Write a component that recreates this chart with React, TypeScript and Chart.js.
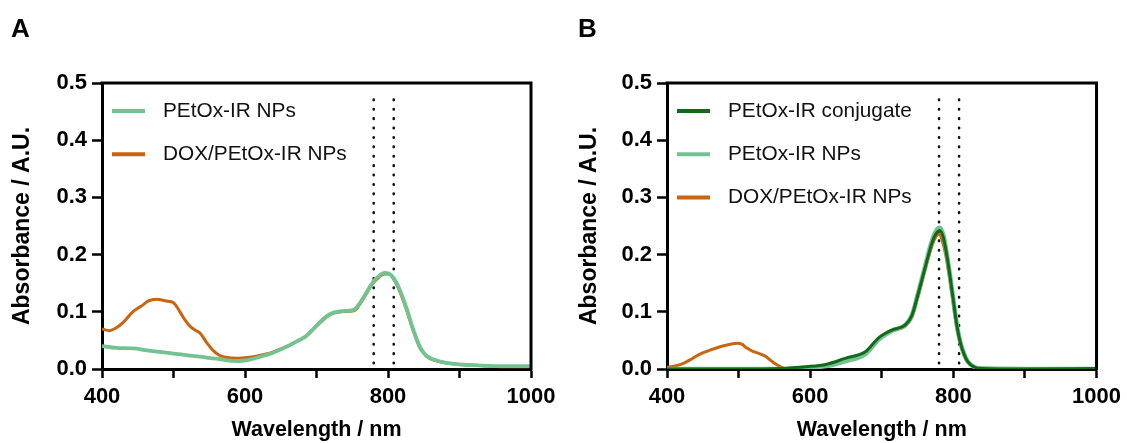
import React, { useEffect, useRef } from "react";
import { Chart, registerables } from "chart.js";

Chart.register(...registerables);

// ---------- data ----------
const X_TICKS_MIN = 400;
const X_TICKS_MAX = 1000;
const Y_MIN = 0;
const Y_MAX = 0.5;
const LASER_LINES = [780, 808];
const DOTTED_RANGE = [0.01, 0.485];

// Panel A
const A_NP_WL = [400, 420, 445, 460, 480, 500, 520, 540, 560, 575, 590, 605, 620, 640, 660, 675, 686, 700, 714, 725, 735, 745, 753, 760, 768, 779, 787, 795, 801, 808, 817, 826, 835, 845, 854, 865, 880, 900, 930, 960, 1000];
const A_NP_ABS = [0.040, 0.037, 0.036, 0.033, 0.030, 0.027, 0.024, 0.021, 0.018, 0.015, 0.014, 0.016, 0.021, 0.029, 0.040, 0.050, 0.058, 0.076, 0.092, 0.099, 0.101, 0.102, 0.104, 0.114, 0.130, 0.152, 0.162, 0.168, 0.167, 0.159, 0.137, 0.106, 0.070, 0.038, 0.023, 0.016, 0.011, 0.008, 0.006, 0.005, 0.005];

const A_DOX_WL = [400, 410, 420, 430, 443, 455, 465, 476, 490, 500, 509, 516, 523, 530, 537, 546, 555, 564, 575, 590, 610, 625, 640, 650, 663, 675, 686, 700, 714, 725, 735, 745, 753, 760, 768, 779, 787, 795, 801, 808, 817, 826, 835, 845, 854, 865, 880, 900, 930, 960, 1000];
const A_DOX_ABS = [0.070, 0.067, 0.072, 0.082, 0.100, 0.110, 0.119, 0.122, 0.119, 0.116, 0.100, 0.086, 0.075, 0.068, 0.063, 0.047, 0.033, 0.024, 0.020, 0.019, 0.021, 0.025, 0.030, 0.035, 0.042, 0.050, 0.058, 0.075, 0.091, 0.098, 0.100, 0.101, 0.102, 0.112, 0.128, 0.150, 0.160, 0.166, 0.166, 0.157, 0.134, 0.103, 0.068, 0.036, 0.022, 0.015, 0.011, 0.008, 0.006, 0.004, 0.004];

// Panel B
const B_CONJ_WL = [400, 500, 560, 594, 622, 650, 677, 696, 714, 733, 742, 751, 761, 770, 776, 781, 786, 790, 795, 800, 805, 810, 815, 820, 830, 840, 900, 1000];
const B_CONJ_ABS = [0.000, 0.000, 0.001, 0.004, 0.008, 0.019, 0.030, 0.055, 0.068, 0.077, 0.093, 0.132, 0.179, 0.220, 0.237, 0.242, 0.230, 0.205, 0.165, 0.120, 0.075, 0.045, 0.026, 0.013, 0.003, 0.001, 0.000, 0.001];

const B_NP_WL = [400, 560, 594, 622, 650, 677, 696, 714, 733, 742, 751, 761, 770, 776, 781, 786, 790, 795, 800, 805, 810, 815, 820, 830, 840, 1000];
const B_NP_ABS = [0.000, 0.000, 0.002, 0.005, 0.014, 0.026, 0.052, 0.067, 0.077, 0.094, 0.134, 0.182, 0.224, 0.242, 0.247, 0.234, 0.208, 0.167, 0.121, 0.076, 0.046, 0.026, 0.013, 0.003, 0.001, 0.000];

const B_DOX_WL = [400, 410, 423, 435, 446, 460, 474, 487, 499, 505, 511, 520, 529, 538, 545, 550, 557, 564, 580, 600, 622, 650, 677, 696, 714, 733, 742, 751, 761, 770, 776, 780, 785, 790, 795, 800, 805, 810, 815, 820, 830, 850, 900, 1000];
const B_DOX_ABS = [0.003, 0.005, 0.010, 0.018, 0.026, 0.033, 0.039, 0.043, 0.045, 0.043, 0.037, 0.031, 0.027, 0.022, 0.015, 0.010, 0.005, 0.001, 0.000, 0.002, 0.006, 0.016, 0.028, 0.052, 0.066, 0.075, 0.090, 0.128, 0.175, 0.215, 0.232, 0.236, 0.222, 0.195, 0.155, 0.112, 0.070, 0.042, 0.024, 0.012, 0.003, 0.001, 0.000, 0.000];

const LABEL_CONJ = "PEtOx-IR conjugate";
const LABEL_NP = "PEtOx-IR NPs";
const LABEL_DOX = "DOX/PEtOx-IR NPs";

const COLOR_CONJ = "#13691b";
const COLOR_NP = "#74c292";
const COLOR_DOX = "#c9650f";

const FONT = '"Liberation Sans", Arial, Helvetica, sans-serif';

// ---------- helpers ----------
const zip = (xs: number[], ys: number[]) => xs.map((x, i) => ({ x, y: ys[i] }));

const curve = (label: string, wl: number[], abs: number[], color: string, width: number) => ({
  label,
  data: zip(wl, abs),
  borderColor: color,
  backgroundColor: color,
  borderWidth: width,
  pointRadius: 0,
  cubicInterpolationMode: "monotone" as const,
  showInLegend: true,
});

const dotted = (x: number) => ({
  label: "",
  data: [
    { x, y: DOTTED_RANGE[0] },
    { x, y: DOTTED_RANGE[1] },
  ],
  borderColor: "#111",
  borderWidth: 2.6,
  borderDash: [0.5, 8.9],
  borderCapStyle: "round" as const,
  pointRadius: 0,
  showInLegend: false,
});

const framePlugin = {
  id: "frame",
  afterDatasetsDraw(chart: any) {
    const { ctx, chartArea } = chart;
    ctx.save();
    ctx.strokeStyle = "#000";
    ctx.lineWidth = 3;
    ctx.beginPath();
    ctx.moveTo(chartArea.left - 1.5, chartArea.top);
    ctx.lineTo(chartArea.right, chartArea.top);
    ctx.lineTo(chartArea.right, chartArea.bottom + 1.5);
    ctx.stroke();
    ctx.restore();
  },
};

const legendPlugin = {
  id: "insideLegend",
  afterDraw(chart: any) {
    const { ctx, chartArea } = chart;
    const items = chart.data.datasets.filter((d: any) => d.showInLegend);
    ctx.save();
    ctx.font = `normal 20.8px ${FONT}`;
    ctx.textBaseline = "middle";
    ctx.fillStyle = "#111";
    items.forEach((d: any, i: number) => {
      const y = chartArea.top + 28 + i * 43.3;
      const x0 = chartArea.left + 10;
      ctx.strokeStyle = d.borderColor;
      ctx.lineWidth = 4;
      ctx.beginPath();
      ctx.moveTo(x0, y);
      ctx.lineTo(x0 + 33, y);
      ctx.stroke();
      ctx.fillText(d.label, x0 + 51, y);
    });
    ctx.restore();
  },
};

function makeConfig(letter: string, datasets: any[], padLeft: number, yWidth: number, padRight: number) {
  return {
    type: "line" as const,
    data: { datasets },
    plugins: [framePlugin, legendPlugin],
    options: {
      animation: false,
      responsive: false,
      devicePixelRatio: 1,
      layout: { padding: { left: padLeft, right: padRight, top: 0, bottom: 0 } },
      plugins: {
        legend: { display: false },
        tooltip: { enabled: false },
        title: {
          display: true,
          text: letter,
          align: "start",
          color: "#000",
          font: { family: FONT, size: 26, weight: "bold", lineHeight: 1 },
          padding: { top: 17, bottom: 40 },
        },
      },
      scales: {
        x: {
          type: "linear",
          min: X_TICKS_MIN,
          max: X_TICKS_MAX,
          afterFit: (s: any) => {
            s.height = 74;
          },
          border: { display: true, color: "#000", width: 3 },
          grid: { drawOnChartArea: false, drawTicks: true, tickLength: 9, tickWidth: 2.5, tickColor: "#000" },
          ticks: {
            stepSize: 100,
            autoSkip: false,
            maxRotation: 0,
            padding: 6,
            color: "#000",
            font: { family: FONT, size: 22, weight: "bold" },
            callback: (v: any) => (Number(v) % 200 === 0 ? String(v) : ""),
          },
          title: {
            display: true,
            text: "Wavelength / nm",
            color: "#000",
            font: { family: FONT, size: 21.5, weight: "bold", lineHeight: 1.2 },
            padding: { top: 0, bottom: 0 },
          },
        },
        y: {
          type: "linear",
          min: Y_MIN,
          max: Y_MAX,
          afterFit: (s: any) => {
            s.width = yWidth;
          },
          border: { display: true, color: "#000", width: 3 },
          grid: { drawOnChartArea: false, drawTicks: true, tickLength: 10, tickWidth: 2.5, tickColor: "#000" },
          ticks: {
            stepSize: 0.1,
            padding: 5,
            color: "#000",
            font: { family: FONT, size: 22, weight: "bold" },
            callback: (v: any) => Number(v).toFixed(1),
          },
          title: {
            display: true,
            text: "Absorbance / A.U.",
            color: "#000",
            font: { family: FONT, size: 23, weight: "bold", lineHeight: 1 },
            padding: { top: 0, bottom: 0 },
          },
        },
      },
    },
  };
}

function Panel(props: { letter: string; datasets: any[]; left: number; width: number; padLeft: number; yWidth: number; padRight: number }) {
  const ref = useRef<HTMLCanvasElement | null>(null);
  useEffect(() => {
    if (!ref.current) return;
    const chart = new Chart(ref.current, makeConfig(props.letter, props.datasets, props.padLeft, props.yWidth, props.padRight) as any);
    return () => chart.destroy();
  }, []);
  return (
    <canvas
      ref={ref}
      width={props.width}
      height={443}
      style={{ position: "absolute", left: props.left, top: 0, width: props.width, height: 443 }}
    />
  );
}

export default function App() {
  const dsA = [
    curve(LABEL_NP, A_NP_WL, A_NP_ABS, COLOR_NP, 3.8),
    curve(LABEL_DOX, A_DOX_WL, A_DOX_ABS, COLOR_DOX, 3),
    dotted(LASER_LINES[0]),
    dotted(LASER_LINES[1]),
  ];
  const dsB = [
    curve(LABEL_CONJ, B_CONJ_WL, B_CONJ_ABS, COLOR_CONJ, 3),
    curve(LABEL_NP, B_NP_WL, B_NP_ABS, COLOR_NP, 4.5),
    curve(LABEL_DOX, B_DOX_WL, B_DOX_ABS, COLOR_DOX, 3),
    dotted(LASER_LINES[0]),
    dotted(LASER_LINES[1]),
  ];
  return (
    <div style={{ position: "fixed", left: 0, top: 0, width: 1127, height: 443, background: "#fff", overflow: "hidden" }}>
      <Panel letter="A" datasets={dsA} left={0} width={563} padLeft={11} yWidth={91} padRight={32} />
      <Panel letter="B" datasets={dsB} left={563} width={564} padLeft={15} yWidth={89} padRight={28} />
    </div>
  );
}
